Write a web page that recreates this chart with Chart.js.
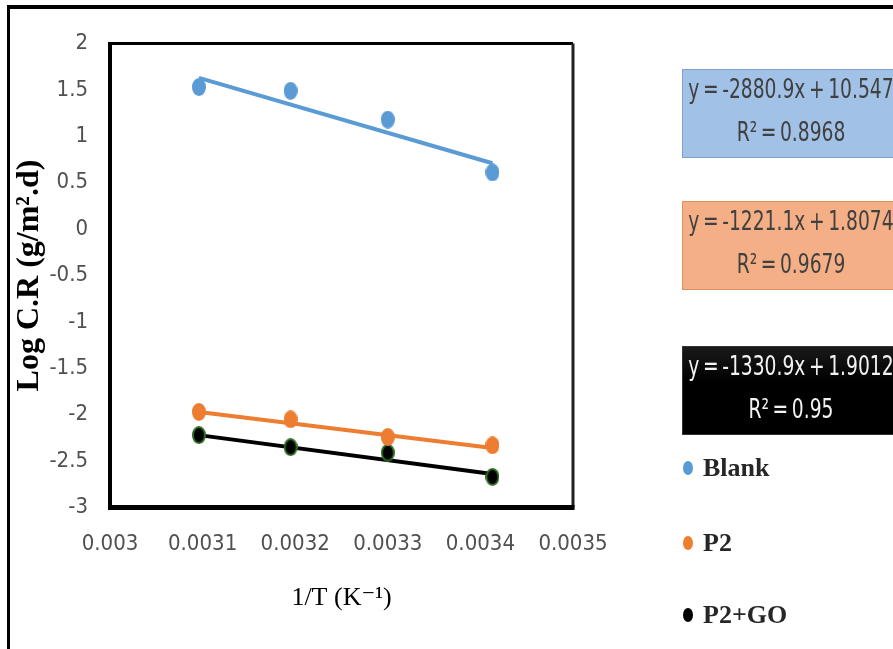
<!DOCTYPE html>
<html>
<head>
<meta charset="utf-8">
<title>Log C.R vs 1/T</title>
<script src="https://cdn.jsdelivr.net/npm/chart.js@4.4.1/dist/chart.umd.min.js"></script>
<style>
    body { margin: 0; background: #fff; overflow: hidden; }
    #wrap { position: relative; width: 893px; height: 649px; overflow: hidden; }
    #frame { position: absolute; left: 7px; top: 5px; width: 1000px; height: 1000px; border-top: 4px solid #000; border-left: 3px solid #000; }
    #chart-box { position: absolute; left: 0; top: 0; width: 893px; height: 649px; }
    .eq { position: absolute; left: 682px; width: 218px; height: 89px; box-sizing: border-box; text-align: center;
          font-family: 'DejaVu Sans Condensed', 'Liberation Sans Narrow', 'Open Sans', sans-serif; font-size: 26px; line-height: 43px; white-space: nowrap; }
    .eq .inner { width: 400px; margin-left: -92px; margin-top: -2px; transform: scaleX(0.8); transform-origin: 200px 0; word-spacing: -3px; }
    .legend-item { position: absolute; left: 683px; height: 30px; line-height: 30px;
                   font-family: 'Liberation Serif', 'DejaVu Serif', serif; font-weight: bold; font-size: 26px; color: #262626; }
    .legend-item .dot { position: absolute; left: 0; top: 8px; width: 10px; height: 14px; border-radius: 50%; }
    .legend-item .label { position: absolute; left: 20px; top: 0; white-space: nowrap; }
</style>
</head>
<body>
<div id="wrap">
    <div id="frame"></div>
    <div id="chart-box"><canvas id="chart"></canvas></div>
    <div id="side"></div>
</div>
<script>
// Data
const seriesNames = ['Blank', 'P2', 'P2+GO'];
const xValues = [0.003096, 0.003195, 0.0033, 0.003413];
const blankValues = [1.53, 1.49, 1.18, 0.61];
const p2Values = [-1.97, -2.05, -2.24, -2.33];
const p2goValues = [-2.22, -2.35, -2.41, -2.67];

// Trendline end points (first and last x)
const trendX = [0.003096, 0.003413];
const blankTrend = [1.63, 0.71];
const p2Trend = [-1.97, -2.36];
const p2goTrend = [-2.22, -2.64];

// Trendline labels
const equations = ['y = -2880.9x + 10.547', 'y = -1221.1x + 1.8074', 'y = -1330.9x + 1.9012'];
const rSquared = ['R² = 0.8968', 'R² = 0.9679', 'R² = 0.95'];

// Axis ticks
const xTicks = [0.003, 0.0031, 0.0032, 0.0033, 0.0034, 0.0035];
const xTickLabels = ['0.003', '0.0031', '0.0032', '0.0033', '0.0034', '0.0035'];
const yTicks = [-3, -2.5, -2, -1.5, -1, -0.5, 0, 0.5, 1, 1.5, 2];
const yTickLabels = ['-3', '-2.5', '-2', '-1.5', '-1', '-0.5', '0', '0.5', '1', '1.5', '2'];

// Colours
const blue = '#5B9BD5';
const orange = '#ED7D31';
const black = '#000000';

const toPoints = (xs, ys) => xs.map((x, i) => ({ x: x, y: ys[i] }));

// Slightly tall oval markers, like the stretched original
const makeMarker = (fill, stroke, w, h) => {
    const c = document.createElement('canvas');
    c.width = w;
    c.height = h;
    const g = c.getContext('2d');
    g.beginPath();
    g.ellipse(w / 2, h / 2, w / 2 - 1, h / 2 - 1, 0, 0, Math.PI * 2);
    g.fillStyle = fill;
    g.fill();
    g.lineWidth = 2;
    g.strokeStyle = stroke;
    g.stroke();
    return c;
};

const tickFont = { family: "'DejaVu Sans Condensed', 'Liberation Sans Narrow', 'Open Sans', sans-serif", size: 22 };

// Black box round the plot area
const plotFrame = {
    id: 'plotFrame',
    beforeDatasetsDraw(chart) {
        const { ctx, chartArea: a } = chart;
        ctx.save();
        ctx.strokeStyle = '#000';
        ctx.lineWidth = 3;
        ctx.beginPath(); ctx.moveTo(a.left, a.top); ctx.lineTo(a.right, a.top); ctx.stroke();
        ctx.strokeStyle = '#222';
        ctx.beginPath(); ctx.moveTo(a.right, a.top); ctx.lineTo(a.right, a.bottom); ctx.stroke();
        ctx.strokeStyle = '#000';
        ctx.lineWidth = 4;
        ctx.beginPath(); ctx.moveTo(a.left, a.top - 1.5); ctx.lineTo(a.left, a.bottom + 2); ctx.stroke();
        ctx.lineWidth = 5;
        ctx.beginPath(); ctx.moveTo(a.left - 2, a.bottom); ctx.lineTo(a.right + 1.5, a.bottom); ctx.stroke();
        ctx.restore();
    }
};

const ctx = document.getElementById('chart').getContext('2d');
new Chart(ctx, {
    type: 'scatter',
    data: {
        datasets: [
            { label: seriesNames[0], data: toPoints(xValues, blankValues), pointStyle: makeMarker(blue, blue, 14, 18), showLine: false },
            { label: seriesNames[1], data: toPoints(xValues, p2Values), pointStyle: makeMarker(orange, orange, 14, 18), showLine: false },
            { label: seriesNames[2], data: toPoints(xValues, p2goValues), pointStyle: makeMarker(black, '#2E6B22', 14, 18), showLine: false },
            { label: 'Linear (Blank)', data: toPoints(trendX, blankTrend), showLine: true, pointRadius: 0, borderColor: blue, borderWidth: 4 },
            { label: 'Linear (P2)', data: toPoints(trendX, p2Trend), showLine: true, pointRadius: 0, borderColor: orange, borderWidth: 4 },
            { label: 'Linear (P2+GO)', data: toPoints(trendX, p2goTrend), showLine: true, pointRadius: 0, borderColor: black, borderWidth: 4 }
        ]
    },
    options: {
        responsive: true,
        maintainAspectRatio: false,
        animation: false,
        layout: {
            padding: { left: 0, top: 43.5, right: 320, bottom: 0 }
        },
        plugins: {
            legend: { display: false },
            tooltip: { enabled: false }
        },
        scales: {
            x: {
                type: 'linear',
                min: 0.003,
                max: 0.0035,
                afterBuildTicks: scale => { scale.ticks = xTicks.map(v => ({ value: v })); },
                afterFit: scale => { scale.height = 141.5; },
                ticks: {
                    callback: (value, index) => xTickLabels[index],
                    font: tickFont,
                    color: '#505050',
                    padding: 24,
                    maxRotation: 0,
                    autoSkip: false
                },
                grid: { display: false, drawTicks: false },
                border: { display: false },
                title: {
                    display: true,
                    text: '1/T (K⁻¹)',
                    color: '#000',
                    font: { family: "'Liberation Serif', 'DejaVu Serif', serif", size: 26 },
                    padding: { top: 0, bottom: 35 }
                }
            },
            y: {
                type: 'linear',
                min: -3,
                max: 2,
                afterBuildTicks: scale => { scale.ticks = yTicks.map(v => ({ value: v })); },
                afterFit: scale => { scale.width = 110; },
                ticks: {
                    callback: (value, index) => yTickLabels[index],
                    font: tickFont,
                    color: '#505050',
                    padding: 22,
                    autoSkip: false
                },
                grid: { display: false, drawTicks: false },
                border: { display: false },
                title: {
                    display: true,
                    text: 'Log C.R (g/m².d)',
                    color: '#000',
                    font: { family: "'Liberation Serif', 'DejaVu Serif', serif", size: 32, weight: 'bold' },
                    padding: { top: 11, bottom: 0 }
                }
            }
        }
    },
    plugins: [plotFrame]
});

// Trendline equation boxes and legend on the right
const side = document.getElementById('side');
const boxStyles = [
    { top: 69, background: '#A2C1E6', border: '#7F9FCC', color: '#404040' },
    { top: 201, background: '#F4AF86', border: '#E0905E', color: '#404040' },
    { top: 346, background: 'linear-gradient(#1a1a1a, #000 40%, #000)', border: '#333', color: '#F2F2F2' }
];
equations.forEach((eq, i) => {
    const s = boxStyles[i];
    const box = document.createElement('div');
    box.className = 'eq';
    box.style.top = s.top + 'px';
    box.style.background = s.background;
    box.style.border = '1px solid ' + s.border;
    box.style.color = s.color;
    box.innerHTML = '<div class="inner"><div>' + eq + '</div><div>' + rSquared[i] + '</div></div>';
    side.appendChild(box);
});

const legendTops = [453, 528, 600];
const legendColors = [blue, orange, black];
seriesNames.forEach((name, i) => {
    const item = document.createElement('div');
    item.className = 'legend-item';
    item.style.top = legendTops[i] + 'px';
    item.innerHTML = '<span class="dot" style="background:' + legendColors[i] + '"></span><span class="label">' + name + '</span>';
    side.appendChild(item);
});
</script>
</body>
</html>
